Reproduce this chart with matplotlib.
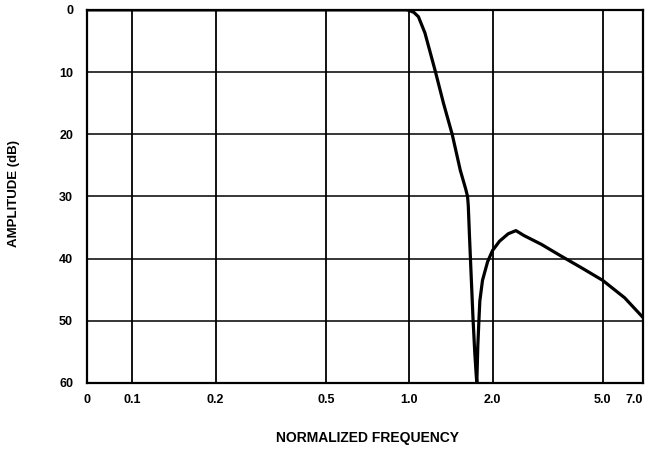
import numpy as np
import matplotlib
matplotlib.use('agg')
import matplotlib.pyplot as plt

# response (normalized frequency, attenuation in dB)
freq = [0.0686, 0.5, 0.98, 1.0, 1.04, 1.08, 1.14, 1.24, 1.33, 1.43, 1.53, 1.60, 1.625,
        1.635, 1.65, 1.67, 1.70, 1.725, 1.745, 1.755,
        1.77, 1.79, 1.80, 1.84, 1.92, 2.0, 2.12, 2.28, 2.43, 2.6, 3.0, 3.51, 4.2, 5.0, 6.0, 7.0]
amp_db = [0.0, 0.0, 0.0, 0.1, 0.4, 1.1, 3.7, 9.7, 15.0, 20.0, 25.8, 28.8, 30.0,
          31.5, 36.0, 41.5, 49.5, 55.0, 58.5, 60.0,
          54.0, 49.0, 46.8, 43.5, 40.5, 38.7, 37.2, 36.0, 35.5, 36.3, 37.7, 39.5, 41.5, 43.5, 46.3, 49.5]

x_ticks = [0.0686, 0.1, 0.2, 0.5, 1.0, 2.0, 5.0, 7.0]
x_labels = ['0', '0.1', '0.2', '0.5', '1.0', '2.0', '5.0', '7.0']
y_ticks = [0, 10, 20, 30, 40, 50, 60]

plt.rcParams['font.family'] = ['Liberation Sans', 'DejaVu Sans']

fig = plt.figure(figsize=(6.49, 4.5), dpi=100)
ax = fig.add_axes([0.134, 0.149, 0.857, 0.829])

ax.set_xscale('log')
ax.set_xlim(x_ticks[0], x_ticks[-1])
ax.set_ylim(60, 0)

for f in x_ticks[1:-1]:
    ax.axvline(f, color='black', lw=1.3, zorder=1)
for d in y_ticks[1:-1]:
    ax.axhline(d, color='black', lw=1.1, zorder=1)

ax.plot(freq, amp_db, color='black', lw=2.3, zorder=3, solid_joinstyle='round')

ax.minorticks_off()
ax.set_xticks(x_ticks)
ax.set_xticklabels(x_labels)
ax.set_yticks(y_ticks)
ax.tick_params(length=0, labelsize=9)
ax.tick_params(axis='x', pad=8)
ax.tick_params(axis='y', pad=10)
for lab in ax.get_xticklabels() + ax.get_yticklabels():
    lab.set_fontweight('bold')
ax.get_xticklabels()[-1].set_ha('right')  # keep "7.0" inside the figure

for s in ax.spines.values():
    s.set_linewidth(1.6)

fig.text(0.022, 0.571, 'AMPLITUDE (dB)', rotation=90, ha='center', va='center',
         fontsize=9.5, fontweight='bold')
fig.text(0.567, 0.027, 'NORMALIZED FREQUENCY', ha='center', va='center',
         fontsize=10, fontweight='bold')

fig.savefig('out.png', dpi=100)
